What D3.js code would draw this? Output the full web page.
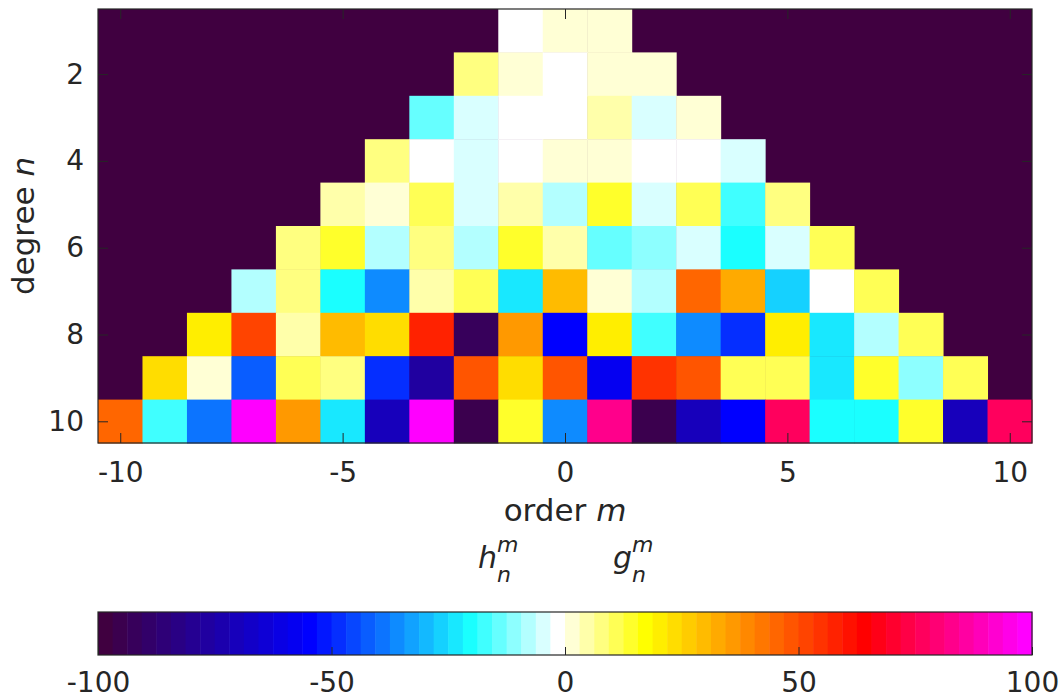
<!DOCTYPE html>
<html>
<head>
<meta charset="utf-8">
<script src="https://cdn.jsdelivr.net/npm/d3@7"></script>
<style>
  body { margin: 0; background: #fff; }
  text { font-family: "DejaVu Sans", sans-serif; fill: #262626; }
</style>
</head>
<body>
<script>
// coefficient values per degree n, listed for m = -n .. n
const deg1  = [-2, 2, 2];
const deg2  = [8, 2, -2, 2, 2];
const deg3  = [-14, -5, -2, -2, 5, -5, 2];
const deg4  = [8, -2, -5, -2, 2, 2, -2, -2, -5];
const deg5  = [5, 2, 11, -5, 5, -8, 14, -5, 11, -17, 8];
const deg6  = [8, 14, -8, 8, -8, 14, 5, -14, -11, -5, -20, -5, 11];
const deg7  = [-8, 8, -20, -36, 5, 11, -23, 30, 2, -8, 45, 33, -27, -2, 11];
const deg8  = [20, 52, 5, 30, 23, 58, -92, 36, -55, 20, -17, -36, -48, 20, -23, -8, 11];
const deg9  = [23, 2, -42, 11, 8, -48, -77, 48, 23, 48, -58, 55, 48, 11, 11, -23, 14, -11, 11];
const deg10 = [45, -17, -39, 100, 36, -23, -70, 100, -95, 14, -36, 83, -95, -70, -55, 77, -20, -20, 14, -70, 77];

const xTicks = [-10, -5, 0, 5, 10];
const yTicks = [2, 4, 6, 8, 10];
const cTicks = [-100, -50, 0, 50, 100];

// colormap anchors (index in 64-step map, colour)
const cmapStops = [[0, "#400040"], [14, "#0000ff"], [25, "#1affff"], [31, "#ffffff"],
                   [37, "#ffff00"], [52, "#ff0000"], [63, "#ff00ff"]];

const cells = [];
[deg1, deg2, deg3, deg4, deg5, deg6, deg7, deg8, deg9, deg10].forEach((row, i) => {
  const n = i + 1;
  row.forEach((v, j) => cells.push({n, m: j - n, v}));
});

const cmap = [];
for (let s = 0; s < cmapStops.length - 1; s++) {
  const [k0, c0] = cmapStops[s], [k1, c1] = cmapStops[s + 1];
  const f = d3.interpolateRgb(c0, c1);
  for (let k = k0; k < k1; k++) cmap[k] = d3.rgb(f((k - k0) / (k1 - k0))).formatHex();
}
cmap[63] = cmapStops[cmapStops.length - 1][1];

const color = d3.scaleQuantize().domain([-100, 100]).range(cmap);

const width = 1062, height = 700;
const margin = {left: 98, right: 1032, top: 9, bottom: 443};
const ink = "#262626";
const plain = d => String(d); // hyphen minus, as in the original

const svg = d3.select("body").append("svg")
    .attr("width", width)
    .attr("height", height);

const x = d3.scaleLinear().domain([-10.5, 10.5]).range([margin.left, margin.right]);
const y = d3.scaleLinear().domain([0.5, 10.5]).range([margin.top, margin.bottom]);

svg.append("rect")
    .attr("x", margin.left).attr("y", margin.top)
    .attr("width", margin.right - margin.left).attr("height", margin.bottom - margin.top)
    .attr("fill", cmap[0]);

svg.append("g").selectAll("rect")
  .data(cells)
  .join("rect")
    .attr("x", d => x(d.m - 0.5))
    .attr("y", d => y(d.n - 0.5))
    .attr("width", d => x(d.m + 0.5) - x(d.m - 0.5) + 0.5)
    .attr("height", d => y(d.n + 0.5) - y(d.n - 0.5) + 0.5)
    .attr("fill", d => color(d.v));

function style(g) {
  g.select(".domain").remove();
  g.selectAll(".tick line").attr("stroke", ink);
  g.selectAll(".tick text").attr("fill", ink).style("font-size", "28px");
}

svg.append("g")
    .attr("transform", `translate(0,${margin.bottom})`)
    .call(d3.axisBottom(x).tickValues(xTicks).tickFormat(plain).tickSizeInner(-10).tickSizeOuter(0).tickPadding(19))
    .call(style);
svg.append("g")
    .attr("transform", `translate(0,${margin.top})`)
    .call(d3.axisTop(x).tickValues(xTicks).tickSizeInner(-10).tickSizeOuter(0).tickFormat(""))
    .call(style);
svg.append("g")
    .attr("transform", `translate(${margin.left},0)`)
    .call(d3.axisLeft(y).tickValues(yTicks).tickFormat(plain).tickSizeInner(-10).tickSizeOuter(0).tickPadding(14))
    .call(style);
svg.append("g")
    .attr("transform", `translate(${margin.right},0)`)
    .call(d3.axisRight(y).tickValues(yTicks).tickSizeInner(-10).tickSizeOuter(0).tickFormat(""))
    .call(style);

svg.append("rect")
    .attr("x", margin.left).attr("y", margin.top)
    .attr("width", margin.right - margin.left).attr("height", margin.bottom - margin.top)
    .attr("fill", "none").attr("stroke", ink).attr("stroke-width", 1.2);

svg.append("text")
    .attr("x", (margin.left + margin.right) / 2).attr("y", 521)
    .attr("text-anchor", "middle")
    .style("font-size", "31px")
    .call(t => {
      t.append("tspan").text("order ");
      t.append("tspan").attr("font-style", "italic").text("m");
    });

svg.append("text")
    .attr("transform", `translate(34,${(margin.top + margin.bottom) / 2}) rotate(-90)`)
    .attr("text-anchor", "middle")
    .style("font-size", "31px")
    .call(t => {
      t.append("tspan").text("degree ");
      t.append("tspan").attr("font-style", "italic").text("n");
    });

// h_n^m and g_n^m labels
[["h", 478], ["g", 613]].forEach(([s, x0]) => {
  const g = svg.append("g").attr("font-style", "italic");
  g.append("text").attr("x", x0).attr("y", 568).style("font-size", "30px").text(s);
  g.append("text").attr("x", x0 + 19).attr("y", 552).style("font-size", "22px").text("m");
  g.append("text").attr("x", x0 + 19).attr("y", 582).style("font-size", "22px").text("n");
});

// colorbar
const cbTop = 612, cbBottom = 655;
const cx = d3.scaleLinear().domain([-100, 100]).range([margin.left, margin.right]);
const step = 200 / cmap.length;

svg.append("g").selectAll("rect")
  .data(cmap)
  .join("rect")
    .attr("x", (c, i) => cx(-100 + i * step))
    .attr("y", cbTop)
    .attr("width", (c, i) => cx(-100 + (i + 1) * step) - cx(-100 + i * step) + 0.5)
    .attr("height", cbBottom - cbTop)
    .attr("fill", c => c);

svg.append("g")
    .attr("transform", `translate(0,${cbBottom})`)
    .call(d3.axisBottom(cx).tickValues(cTicks).tickFormat(plain).tickSizeInner(-8).tickSizeOuter(0).tickPadding(17))
    .call(style);

svg.append("rect")
    .attr("x", margin.left).attr("y", cbTop)
    .attr("width", margin.right - margin.left).attr("height", cbBottom - cbTop)
    .attr("fill", "none").attr("stroke", ink).attr("stroke-width", 1.2);
</script>
</body>
</html>
